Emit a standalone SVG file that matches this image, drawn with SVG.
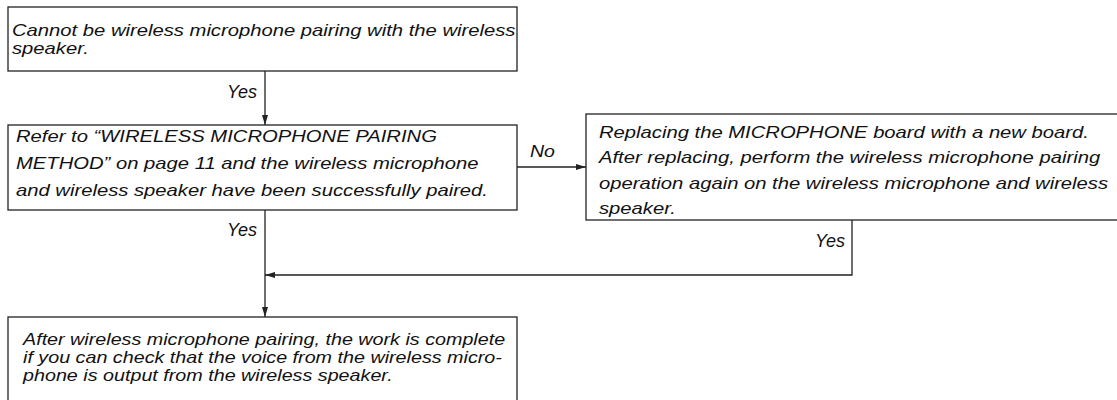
<svg xmlns="http://www.w3.org/2000/svg" width="1117" height="400" viewBox="0 0 1117 400">
<defs>
<marker id="ah" markerWidth="11" markerHeight="8" refX="10" refY="4" orient="auto" markerUnits="userSpaceOnUse">
<path d="M0,1 L10,4 L0,7 Z" fill="#222"/>
</marker>
<style>
.box{fill:#fff;stroke:#222;stroke-width:1.3}
.t{font-family:"Liberation Sans",Arial,sans-serif;font-style:italic;font-size:17px;fill:#111}
.lb{font-family:"Liberation Sans",Arial,sans-serif;font-style:italic;font-size:18px;fill:#111}
.ln{fill:none;stroke:#222;stroke-width:1.3}
</style>
</defs>
<rect width="1117" height="400" fill="#fff"/>
<g id="connectors">
<line class="ln" x1="265" y1="71" x2="265" y2="125" marker-end="url(#ah)"/>
<line class="ln" x1="517" y1="167" x2="586" y2="167" marker-end="url(#ah)"/>
<line class="ln" x1="265" y1="210" x2="265" y2="317" marker-end="url(#ah)"/>
<polyline class="ln" points="852,220 852,275 265,275" marker-end="url(#ah)"/>
<text class="lb" x="257" y="98" text-anchor="end">Yes</text>
<text class="t" transform="translate(530,157) scale(1.15,1)">No</text>
<text class="lb" x="257" y="236" text-anchor="end">Yes</text>
<text class="lb" x="845" y="247" text-anchor="end">Yes</text>
</g>
<g id="n1">
<rect class="box" x="8" y="7" width="509" height="64"/>
<g transform="translate(12,0) scale(1.19,1)">
<text class="t" x="0" y="36">Cannot be wireless microphone pairing with the wireless</text>
<text class="t" x="0" y="54.5">speaker.</text>
</g>
</g>
<g id="n2">
<rect class="box" x="8" y="125" width="509" height="85"/>
<g transform="translate(16,0) scale(1.19,1)">
<text class="t" x="0" y="142">Refer to “WIRELESS MICROPHONE PAIRING</text>
<text class="t" x="0" y="169">METHOD” on page 11 and the wireless microphone</text>
<text class="t" x="0" y="196">and wireless speaker have been successfully paired.</text>
</g>
</g>
<g id="n3">
<rect class="box" x="586" y="114" width="540" height="106"/>
<g transform="translate(599,0) scale(1.19,1)">
<text class="t" x="0" y="138">Replacing the MICROPHONE board with a new board.</text>
<text class="t" x="0" y="163.5">After replacing, perform the wireless microphone pairing</text>
<text class="t" x="0" y="189">operation again on the wireless microphone and wireless</text>
<text class="t" x="0" y="214">speaker.</text>
</g>
</g>
<g id="n4">
<rect class="box" x="8" y="317" width="509" height="90"/>
<g transform="translate(23,0) scale(1.16,1)">
<text class="t" x="0" y="345">After wireless microphone pairing, the work is complete</text>
<text class="t" x="0" y="363">if you can check that the voice from the wireless micro-</text>
<text class="t" x="0" y="381">phone is output from the wireless speaker.</text>
</g>
</g>
</svg>
